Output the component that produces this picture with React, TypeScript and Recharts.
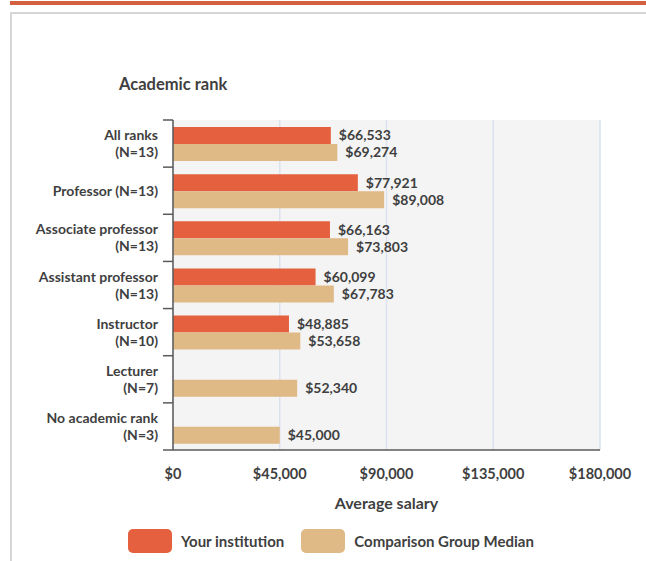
import React from 'react';
import { BarChart, Bar, XAxis, YAxis, CartesianGrid, LabelList } from 'recharts';

// Values
const categories = [
  'All ranks\n(N=13)',
  'Professor (N=13)',
  'Associate professor\n(N=13)',
  'Assistant professor\n(N=13)',
  'Instructor\n(N=10)',
  'Lecturer\n(N=7)',
  'No academic rank\n(N=3)',
];
const yourInstitution = [66533, 77921, 66163, 60099, 48885, null, null];
const comparisonMedian = [69274, 89008, 73803, 67783, 53658, 52340, 45000];
const xTicks = [0, 45000, 90000, 135000, 180000];

const data = categories.map((label, i) => ({
  label,
  yours: yourInstitution[i],
  median: comparisonMedian[i],
}));

const ORANGE = '#e4603e';
const TAN = '#dfb986';
const TEXT = '#3f3f3f';
const FONT = 'Lato, "Open Sans", sans-serif';

const PLOT_TOP = 120;
const PLOT_BOTTOM = 450;
const AXIS_X = 173;
const BAND = (PLOT_BOTTOM - PLOT_TOP) / categories.length;

const money = (v: any) => (v == null ? '' : '$' + Number(v).toLocaleString('en-US'));

const YTick = (props: any) => {
  const { y, payload, index } = props;
  const lines = String(payload.value).split('\n');
  const half = BAND / 2;
  return (
    <g>
      <line x1={AXIS_X - 10} x2={AXIS_X} y1={y - half} y2={y - half} stroke="#5a5a5a" strokeWidth={1.5} />
      {index === categories.length - 1 && (
        <line x1={AXIS_X - 10} x2={AXIS_X} y1={y + half} y2={y + half} stroke="#5a5a5a" strokeWidth={1.5} />
      )}
      <text textAnchor="end" fill={TEXT} fontSize={14} fontWeight={700} fontFamily={FONT}>
        {lines.map((l, i) => (
          <tspan key={i} x={AXIS_X - 15} y={y + (i - (lines.length - 1) / 2) * 17 + 5}>
            {l}
          </tspan>
        ))}
      </text>
    </g>
  );
};

const legendItems = [
  { name: 'Your institution', color: ORANGE },
  { name: 'Comparison Group Median', color: TAN },
];

export default function App() {
  return (
    <div style={{ position: 'absolute', left: 0, top: 0, width: 646, height: 561, background: '#fff', overflow: 'hidden' }}>
      <div style={{ position: 'absolute', left: 10, top: 1, right: 0, height: 4, background: '#d3603f' }} />
      <div
        style={{
          position: 'absolute',
          left: 10,
          top: 12,
          width: 646,
          height: 560,
          borderLeft: '2px solid #d6d6d6',
          borderTop: '2px solid #d6d6d6',
        }}
      />
      <div
        style={{
          position: 'absolute',
          left: 119,
          top: 74,
          lineHeight: '20px',
          fontFamily: FONT,
          fontWeight: 700,
          fontSize: 16.5,
          color: TEXT,
        }}
      >
        Academic rank
      </div>
      <div style={{ position: 'absolute', left: 0, top: 0 }}>
        <BarChart
          width={646}
          height={561}
          data={data}
          layout="vertical"
          margin={{ top: PLOT_TOP, right: 46, bottom: 0, left: 0 }}
          barGap={0}
        >
          <CartesianGrid horizontal={false} fill="#f4f4f4" stroke="#dae2ee" strokeWidth={1.5} />
          <XAxis
            type="number"
            domain={[0, 180000]}
            ticks={xTicks}
            tickFormatter={money}
            height={561 - PLOT_BOTTOM}
            axisLine={{ stroke: '#5a5a5a', strokeWidth: 1.5 }}
            tickLine={false}
            tickMargin={13}
            tick={{ fill: TEXT, fontSize: 14.5, fontWeight: 700, fontFamily: FONT }}
            label={{
              value: 'Average salary',
              position: 'insideTop',
              offset: 48,
              fill: TEXT,
              fontSize: 16,
              fontWeight: 700,
              fontFamily: FONT,
            }}
          />
          <XAxis
            xAxisId="top"
            orientation="top"
            type="number"
            domain={[0, 180000]}
            height={0}
            tick={false}
            tickLine={false}
            axisLine={{ stroke: '#e0e0e0', strokeWidth: 2 }}
          />
          <YAxis
            type="category"
            dataKey="label"
            width={AXIS_X}
            axisLine={{ stroke: '#5a5a5a', strokeWidth: 1.5 }}
            tickLine={false}
            tick={<YTick />}
            interval={0}
          />
          <YAxis
            yAxisId="right"
            orientation="right"
            type="category"
            dataKey="label"
            width={0}
            tick={false}
            tickLine={false}
            axisLine={{ stroke: '#c8c8c8', strokeWidth: 2 }}
          />
          <Bar dataKey="yours" name="Your institution" fill={ORANGE} barSize={17} isAnimationActive={false}>
            <LabelList
              dataKey="yours"
              position="right"
              offset={8}
              formatter={money}
              fill={TEXT}
              fontSize={14}
              fontWeight={700}
              fontFamily={FONT}
            />
          </Bar>
          <Bar dataKey="median" name="Comparison Group Median" fill={TAN} barSize={17} isAnimationActive={false}>
            <LabelList
              dataKey="median"
              position="right"
              offset={8}
              formatter={money}
              fill={TEXT}
              fontSize={14}
              fontWeight={700}
              fontFamily={FONT}
            />
          </Bar>
        </BarChart>
      </div>
      <div
        style={{
          position: 'absolute',
          left: 128,
          top: 529,
          display: 'flex',
          alignItems: 'center',
          fontFamily: FONT,
          fontWeight: 700,
          fontSize: 15,
          color: TEXT,
        }}
      >
        {legendItems.map((item, i) => (
          <React.Fragment key={item.name}>
            <div style={{ marginLeft: i === 0 ? 0 : 17, width: 44, height: 24, borderRadius: 5, background: item.color }} />
            <span style={{ marginLeft: 9 }}>{item.name}</span>
          </React.Fragment>
        ))}
      </div>
    </div>
  );
}
